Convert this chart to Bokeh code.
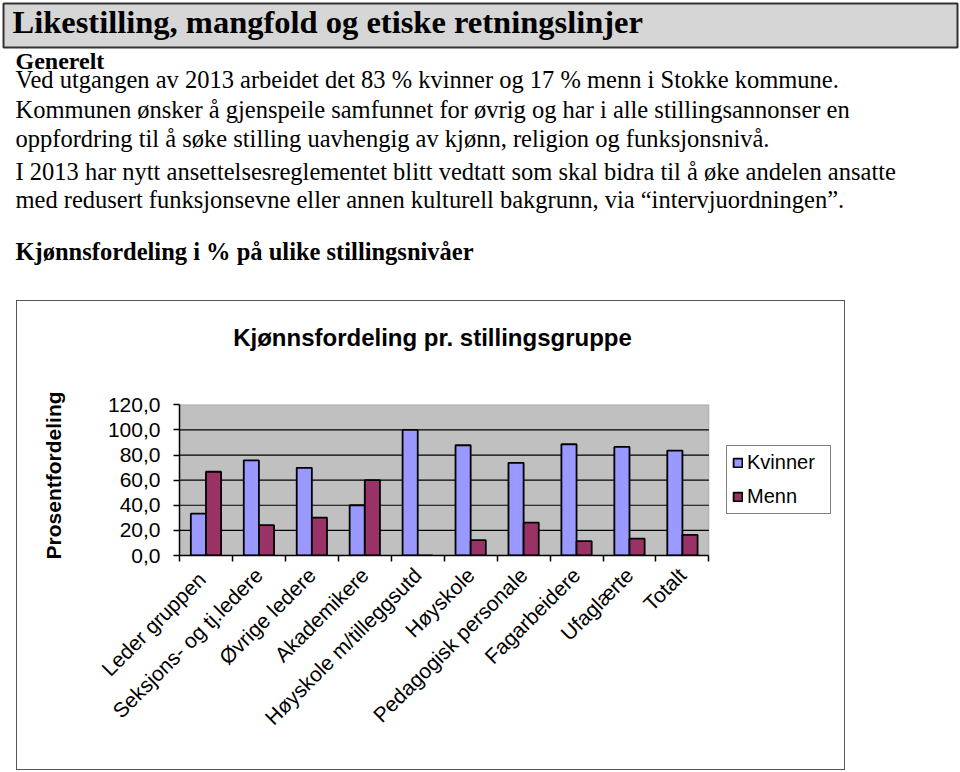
import math
from bokeh.plotting import figure
from bokeh.models import (Range1d, FixedTicker, Legend, LegendItem, Spacer, BoxAnnotation, Label)
from bokeh.layouts import column, row
from bokeh.core.properties import value
from bokeh.embed import file_html
from bokeh.resources import INLINE

# ---------------- data ----------------
page_title = "Likestilling, mangfold og etiske retningslinjer"
section_heading = "Generelt"
body_lines = [
    "Ved utgangen av 2013 arbeidet det 83 % kvinner og 17 % menn i Stokke kommune.",
    "Kommunen ønsker å gjenspeile samfunnet for øvrig og har i alle stillingsannonser en",
    "oppfordring til å søke stilling uavhengig av kjønn, religion og funksjonsnivå.",
    "I 2013 har nytt ansettelsesreglementet blitt vedtatt som skal bidra til å øke andelen ansatte",
    "med redusert funksjonsevne eller annen kulturell bakgrunn, via “intervjuordningen”.",
]
sub_heading = "Kjønnsfordeling i % på ulike stillingsnivåer"
chart_title = "Kjønnsfordeling pr. stillingsgruppe"
y_axis_title = "Prosentfordeling"

categories = ["Leder  gruppen", "Seksjons- og tj.ledere", "Øvrige ledere", "Akademikere",
              "Høyskole m/tilleggsutd", "Høyskole", "Pedagogisk personale",
              "Fagarbeidere", "Ufaglærte", "Totalt"]
kvinner = [33.3, 75.8, 69.8, 40.0, 100.0, 87.8, 73.8, 88.6, 86.5, 83.6]
menn = [66.7, 24.2, 30.2, 60.0, 0.0, 12.2, 26.2, 11.4, 13.5, 16.4]
series_names = ["Kvinner", "Menn"]
y_tick_values = [0, 20, 40, 60, 80, 100, 120]
y_tick_labels = ["0,0", "20,0", "40,0", "60,0", "80,0", "100,0", "120,0"]
grid_values = [20, 40, 60, 80, 100]
y_max_value = 120

SERIF = "Liberation Serif"
SANS = "Liberation Sans"

# ---------------- top: page text ----------------
TOP_H = 300
top = figure(width=960, height=TOP_H, output_backend="svg", toolbar_location=None,
             x_range=Range1d(0, 960), y_range=Range1d(TOP_H, 0),
             x_axis_location=None, y_axis_location=None, min_border=0)
top.outline_line_color = None
top.grid.visible = False
top.background_fill_color = "white"
top.border_fill_color = "white"

top.quad(left=3, right=957, top=3, bottom=47, fill_color="#d6d6d6",
         line_color="#333333", line_width=2)

def add_text(txt, x, y, size, style="normal"):
    top.text(x=[x], y=[y], text=[txt], text_font=value(SERIF),
             text_font_size=value(size), text_font_style=value(style),
             text_align="left", text_baseline="alphabetic", text_color="black")

add_text(page_title, 12, 21, "32.5px", "bold")
add_text(section_heading, 15, 60, "24px", "bold")
body_y = [79.0, 108.5, 138.0, 170.5, 199.0]
for t, yy in zip(body_lines, body_y):
    add_text(t, 15, yy, "24.5px")
add_text(sub_heading, 15, 251, "24.5px", "bold")

# ---------------- bottom: chart ----------------
BORDER = 1.5
CX0, CY0 = 16 + BORDER, 300 + BORDER      # chart canvas origin on page
CW, CH = 827, 468
FL, FR, FT, FB = 180, 709, 405, 556       # plot-area edges on page
n = len(categories)
frame_right = CX0 + CW                     # frame reaches the chart's right edge
top_pad = 18
frame_top = CY0 + top_pad                  # frame reaches up to hold the chart title
x_max = n * (frame_right - FL) / (FR - FL)
y_top = y_max_value * (FB - frame_top) / (FB - FT)

p = figure(width=CW, height=CH, output_backend="svg", toolbar_location=None,
           x_range=Range1d(0, x_max), y_range=Range1d(0, y_top),
           min_border_left=round(FL - CX0), min_border_right=0,
           min_border_top=top_pad, min_border_bottom=round(CY0 + CH - FB))
p.background_fill_color = "white"
p.border_fill_color = "white"
p.outline_line_color = None
p.grid.visible = False

# plot area (grey) and grid lines
p.add_layout(BoxAnnotation(left=0, right=n, bottom=0, top=y_max_value,
                           fill_color="#c0c0c0", fill_alpha=1,
                           line_color="#808080", line_width=1.5, level="underlay"))
p.segment(x0=[0] * len(grid_values), x1=[n] * len(grid_values),
          y0=grid_values, y1=grid_values, line_color="black", line_width=1.2)

bw = 0.286
xk = [i + 0.5 - bw / 2 for i in range(n)]
xm = [i + 0.5 + bw / 2 for i in range(n)]
rk = p.vbar(x=xk, top=kvinner, width=bw, bottom=0, fill_color="#9999ff",
            line_color="black", line_width=1.8)
rm = p.vbar(x=xm, top=menn, width=bw, bottom=0, fill_color="#993366",
            line_color="black", line_width=1.8)

# chart title (inside the extended frame)
p.add_layout(Label(x=433 - FL, y=FB - 338, x_units="screen", y_units="screen",
                   text=chart_title, text_font=SANS, text_font_size="24px",
                   text_font_style="bold", text_color="black",
                   text_align="center", text_baseline="middle"))

yax = p.yaxis[0]
yax.bounds = (0, y_max_value)
yax.ticker = FixedTicker(ticks=y_tick_values)
yax.major_label_overrides = {v: l for v, l in zip(y_tick_values, y_tick_labels)}
yax.major_label_text_font = SANS
yax.major_label_text_font_size = "21px"
yax.major_label_text_color = "black"
yax.major_tick_out = 6
yax.major_tick_in = 0
yax.minor_tick_out = 0
yax.minor_tick_in = 0
yax.major_label_standoff = 13
yax.axis_line_color = "black"
yax.axis_line_width = 1.5
yax.major_tick_line_width = 1.5
# the label is centred on the (taller) frame; trailing no-break spaces move the
# visible words down beside the plot area, as in the reference
yax.axis_label = y_axis_title + "\u00a0" * 13
yax.axis_label_text_font = SANS
yax.axis_label_text_font_size = "21px"
yax.axis_label_text_font_style = "bold"
yax.axis_label_text_color = "black"
yax.axis_label_standoff = 40

xax = p.xaxis[0]
xax.bounds = (0, n)
xax.ticker = FixedTicker(ticks=[i + 0.5 for i in range(n)],
                         minor_ticks=list(range(n + 1)))
xax.major_label_overrides = {i + 0.5: c for i, c in enumerate(categories)}
xax.major_label_orientation = math.pi / 4
xax.major_label_text_font = SANS
xax.major_label_text_font_size = "21px"
xax.major_label_text_color = "black"
xax.major_tick_out = 0
xax.major_tick_in = 0
xax.minor_tick_out = 6
xax.minor_tick_in = 0
xax.minor_tick_line_color = "black"
xax.minor_tick_line_width = 1.5
xax.major_label_standoff = 10
xax.axis_line_color = "black"
xax.axis_line_width = 1.5

legend = Legend(items=[LegendItem(label=series_names[0], renderers=[rk]),
                       LegendItem(label=series_names[1], renderers=[rm])],
                location=(727 - FL, FB - 515))
legend.border_line_color = "black"
legend.border_line_width = 1
legend.background_fill_color = "white"
legend.background_fill_alpha = 1
legend.label_text_font = SANS
legend.label_text_font_size = "20px"
legend.label_text_color = "black"
legend.label_text_line_height = 1.0
legend.label_height = 20
legend.label_width = 78
legend.glyph_width = 11
legend.glyph_height = 11
legend.label_standoff = 4
legend.padding = 5
legend.spacing = 11
legend.margin = 0
p.add_layout(legend, "center")

boxed = column(p, styles={"border": f"{BORDER}px solid #555555"})
layout = column(top, row(Spacer(width=16, height=CH), boxed))
open("out.html", "w").write(file_html(layout, INLINE))
